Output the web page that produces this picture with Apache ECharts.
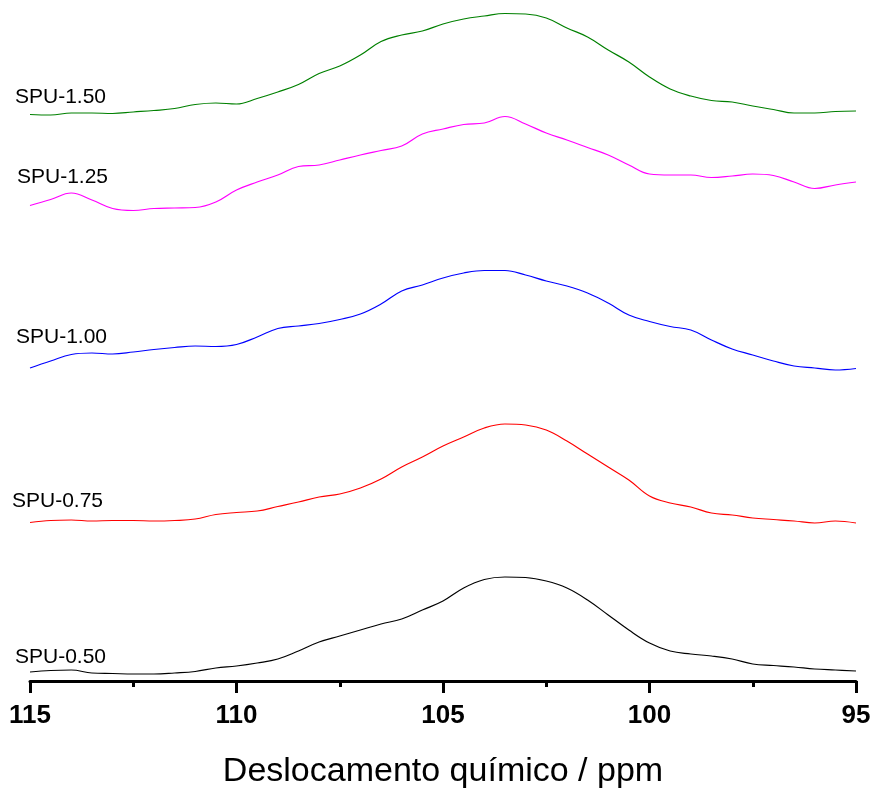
<!DOCTYPE html>
<html>
<head>
<meta charset="utf-8">
<script src="https://cdn.jsdelivr.net/npm/echarts@6/dist/echarts.min.js"></script>
<style>
  html, body { margin: 0; padding: 0; background: #fff; }
  #chart { width: 872px; height: 789px; }
</style>
</head>
<body>
<div id="chart"></div>
<script>
// chemical shift (ppm), read every 0.5 ppm from 115 down to 95
const ppm = [115, 114.5, 114, 113.5, 113, 112.5, 112, 111.5, 111, 110.5,
  110, 109.5, 109, 108.5, 108, 107.5, 107, 106.5, 106, 105.5,
  105, 104.5, 104, 103.5, 103, 102.5, 102, 101.5, 101, 100.5,
  100, 99.5, 99, 98.5, 98, 97.5, 97, 96.5, 96, 95.5, 95]

// stacked intensities (offset already included, arbitrary units)
const spu050 = [9, 10.5, 11, 8, 7.5, 7, 7, 8, 9.5, 13, 15, 18, 22, 30, 39, 45, 51, 57, 62, 71,
  80, 93, 101.5, 104, 103.5, 100, 93, 81, 66, 51, 38, 30, 27, 25, 22, 17, 15.5, 14, 12, 11, 10]
const spu075 = [158.5, 160.5, 161, 160, 160.5, 160.5, 160, 160.5, 162, 166.5, 168.5, 170, 174.5, 179, 184, 187, 193, 202, 214, 224,
  235, 244, 253, 257, 256, 251, 240, 227, 214, 201, 185, 178, 174, 168, 166, 163, 161.5, 160, 158, 160, 158]
const spu100 = [313, 320, 326.5, 328, 327, 329, 331.5, 333.5, 335, 334.5, 336.5, 344, 352.5, 355, 357.5, 361.5, 367, 377, 390, 396,
  403, 408, 410.5, 410.5, 406, 400, 395, 388, 378, 366, 359.5, 354.5, 351, 341, 332, 326, 320, 315, 313, 311, 312.5]
const spu125 = [475.5, 481.5, 488, 481, 472.5, 470.5, 472.5, 473, 473.5, 479, 491, 499, 506, 514.5, 516, 521, 526, 530.5, 535, 547,
  552, 556.5, 558, 564.5, 557, 548, 541, 533.5, 526, 516, 507, 506, 506, 503.5, 505, 507, 505.5, 499, 492.5, 496, 499]
const spu150 = [566.5, 566, 568, 568, 567.5, 569, 570.5, 572.5, 576.5, 578, 577, 582.5, 589, 596.5, 607.5, 615, 626, 639.5, 646, 650,
  657, 662, 665, 667.5, 667, 663, 653, 644, 631, 619, 604, 592, 585, 580.5, 579, 575, 571.5, 568, 568, 569.5, 570]

const names = ['SPU-0.50', 'SPU-0.75', 'SPU-1.00', 'SPU-1.25', 'SPU-1.50']
const colors = ['#000000', '#ff0000', '#0000ff', '#ff00ff', '#008000']
const spectra = [spu050, spu075, spu100, spu125, spu150]
const xTicks = [115, 110, 105, 100, 95]

// where the curve names sit (left edge, middle)
const labelPos = [[15, 657], [12, 501], [16, 337], [17, 177], [15, 97]]

const chart = echarts.init(document.getElementById('chart'))
const font = '"Liberation Sans", Arial, sans-serif'

chart.setOption({
  animation: false,
  backgroundColor: '#fff',
  grid: {
    left: 30,
    right: 16,
    top: 0,
    bottom: 108,
    outerBoundsMode: 'none'
  },
  xAxis: {
    type: 'value',
    min: xTicks[xTicks.length - 1],
    max: xTicks[0],
    interval: 5,
    inverse: true,
    name: 'Deslocamento químico / ppm',
    nameLocation: 'middle',
    nameGap: 74,
    nameTextStyle: { fontFamily: font, fontSize: 34, color: '#000' },
    axisLine: { lineStyle: { color: '#000', width: 3 } },
    axisTick: { length: 12, lineStyle: { color: '#000', width: 3 } },
    minorTick: { show: true, splitNumber: 2, length: 6, lineStyle: { color: '#000', width: 3 } },
    splitLine: { show: false },
    axisLabel: {
      margin: 22,
      fontFamily: font,
      fontSize: 26,
      fontWeight: 'bold',
      color: '#000'
    }
  },
  yAxis: {
    type: 'value',
    min: 0,
    max: 681,
    show: false
  },
  graphic: names.map((n, i) => ({
    type: 'text',
    left: labelPos[i][0],
    top: labelPos[i][1] - 10,
    style: {
      text: n,
      fill: '#000',
      font: '21px ' + font
    }
  })),
  series: spectra.map((s, i) => ({
    name: names[i],
    type: 'line',
    data: s.map((v, k) => [ppm[k], v]),
    smooth: 0.4,
    showSymbol: false,
    lineStyle: { color: colors[i], width: 1.2 }
  }))
})
</script>
</body>
</html>
